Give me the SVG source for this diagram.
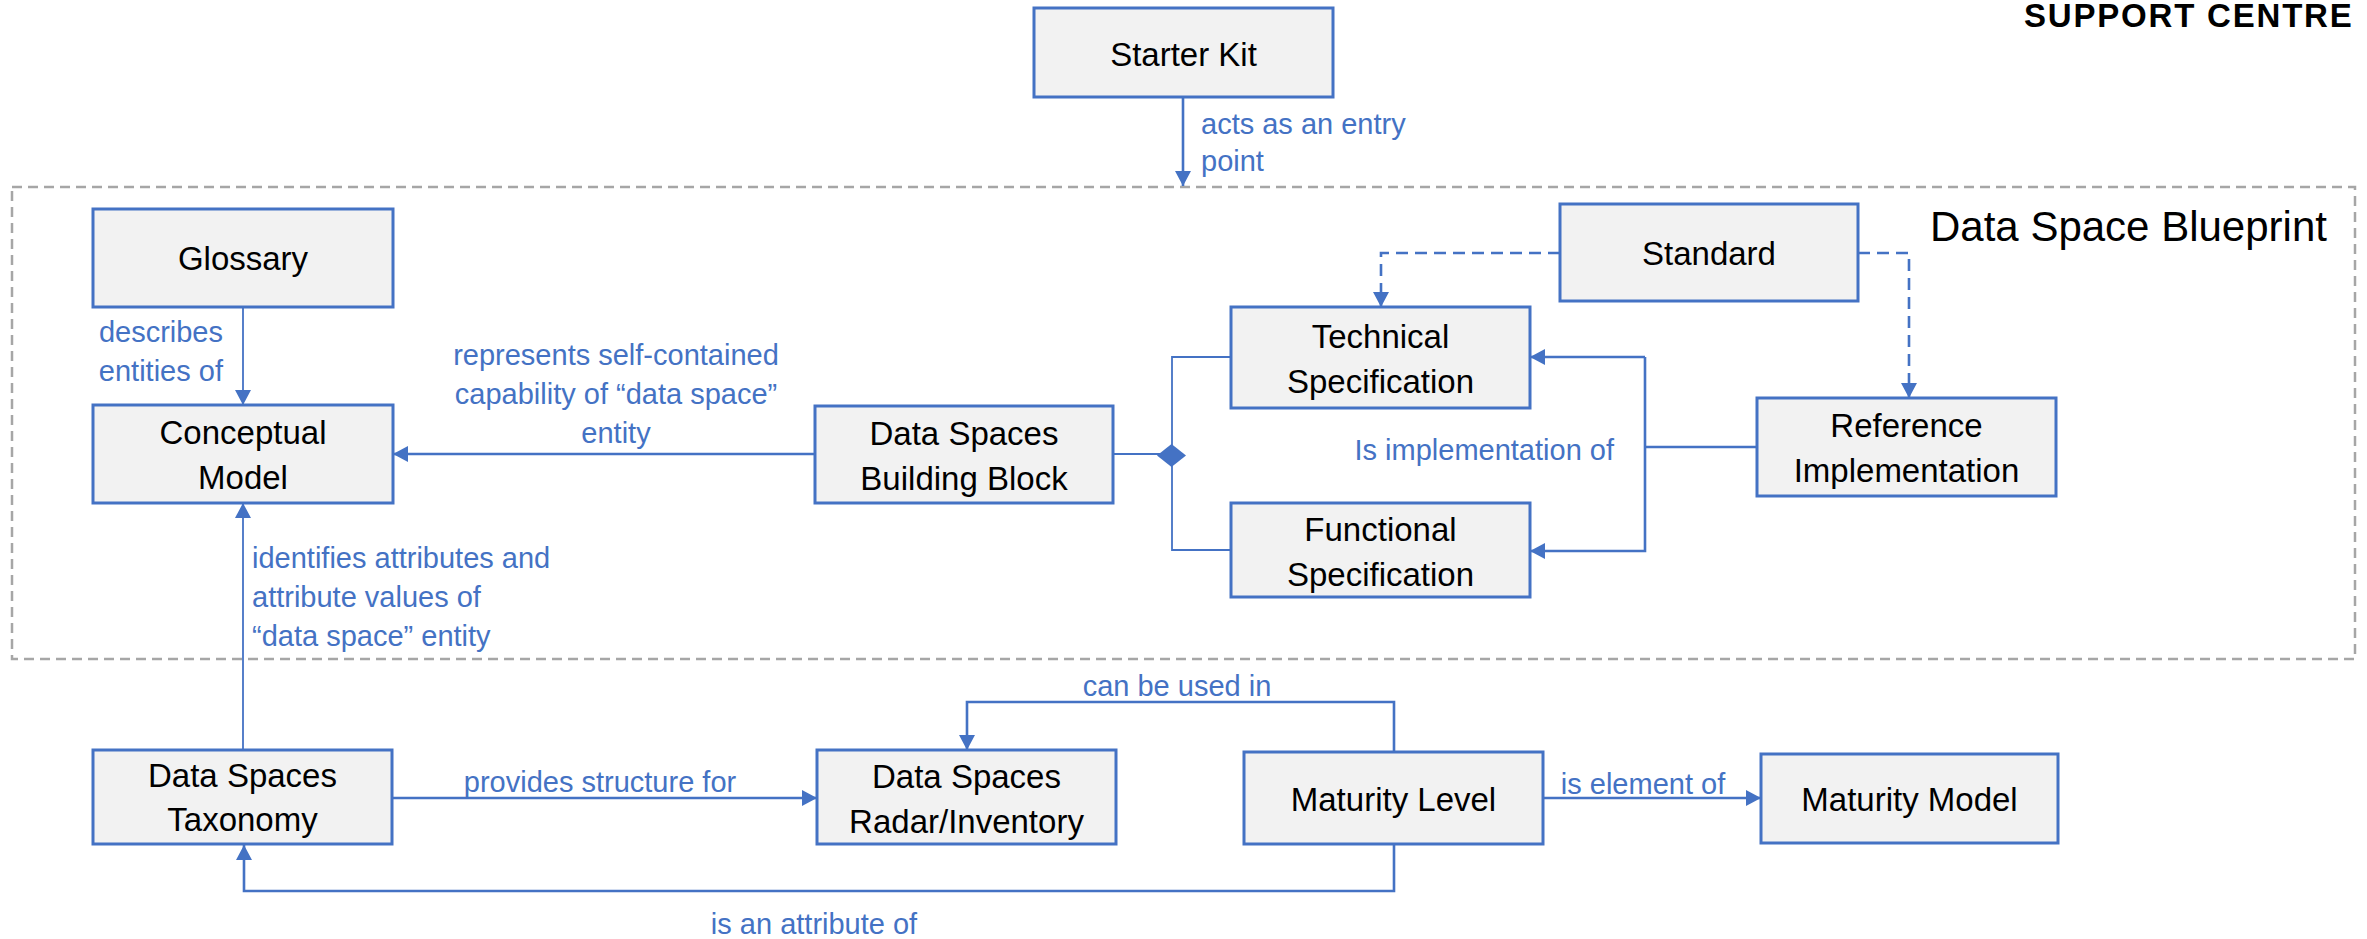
<svg xmlns="http://www.w3.org/2000/svg" width="2367" height="939" viewBox="0 0 2367 939">
<style>
.node rect{fill:#f2f2f2;stroke:#4472c4;stroke-width:3}
.node text{font-family:"Liberation Sans",Arial,sans-serif;font-size:33px;fill:#000;text-anchor:middle}
.lbl{font-family:"Liberation Sans",Arial,sans-serif;font-size:29px;fill:#4472c4}
.c{fill:none;stroke:#4472c4;stroke-width:2.6}
.thin{stroke-width:1.8}
.dash{stroke-dasharray:12 7}
</style>
<defs>
<marker id="arr" viewBox="0 0 15 16" refX="15" refY="8" markerWidth="15" markerHeight="16" markerUnits="userSpaceOnUse" orient="auto">
<path d="M0,0 L15,8 L0,16 z" fill="#4472c4"/>
</marker>
</defs>
<rect width="2367" height="939" fill="#ffffff"/>
<text x="2024" y="27" font-family="'Liberation Sans',Arial,sans-serif" font-size="33" font-weight="bold" letter-spacing="1.8" fill="#000">SUPPORT CENTRE</text>
<g id="blueprint">
<rect x="12" y="187" width="2343" height="472" fill="none" stroke="#a6a6a6" stroke-width="2.5" stroke-dasharray="10 6"/>
<text x="1930" y="241" font-family="'Liberation Sans',Arial,sans-serif" font-size="42" fill="#000">Data Space Blueprint</text>
</g>
<g id="connectors">
<path class="c" d="M1183,97 V186" marker-end="url(#arr)"/>
<path class="c thin" d="M243,307 V405" marker-end="url(#arr)"/>
<path class="c" d="M815,454 H393" marker-end="url(#arr)"/>
<path class="c thin" d="M1113,454 H1160"/>
<path class="c thin" d="M1231,357 H1172 V550 H1231"/>
<polygon points="1157,455.5 1171.5,444 1186,455.5 1171.5,467" fill="#4472c4"/>
<path class="c dash" d="M1560,253 H1381 V307" marker-end="url(#arr)"/>
<path class="c dash" d="M1858,253 H1909 V398" marker-end="url(#arr)"/>
<path class="c" d="M1757,447 H1645"/>
<path class="c" d="M1645,357 H1530" marker-end="url(#arr)"/>
<path class="c" d="M1645,357 V551 H1530" marker-end="url(#arr)"/>
<path class="c thin" d="M243,750 V503" marker-end="url(#arr)"/>
<path class="c" d="M392,798 H817" marker-end="url(#arr)"/>
<path class="c" d="M1394,752 V702 H967 V750" marker-end="url(#arr)"/>
<path class="c" d="M1543,798 H1761" marker-end="url(#arr)"/>
<path class="c" d="M1394,844 V891 H244 V845" marker-end="url(#arr)"/>
<text class="lbl" x="1201" y="134">acts as an entry</text>
<text class="lbl" x="1201" y="171">point</text>
<text class="lbl" x="223" y="342" text-anchor="end">describes</text>
<text class="lbl" x="223" y="381" text-anchor="end">entities of</text>
<text class="lbl" x="616" y="365" text-anchor="middle">represents self-contained</text>
<text class="lbl" x="616" y="404" text-anchor="middle">capability of “data space”</text>
<text class="lbl" x="616" y="443" text-anchor="middle">entity</text>
<text class="lbl" x="1614" y="460" text-anchor="end">Is implementation of</text>
<text class="lbl" x="252" y="568">identifies attributes and</text>
<text class="lbl" x="252" y="607">attribute values of</text>
<text class="lbl" x="252" y="646">“data space” entity</text>
<text class="lbl" x="600" y="792" text-anchor="middle">provides structure for</text>
<text class="lbl" x="1177" y="696" text-anchor="middle">can be used in</text>
<text class="lbl" x="1643" y="794" text-anchor="middle">is element of</text>
<text class="lbl" x="814" y="934" text-anchor="middle">is an attribute of</text>
</g>
<g id="starter-kit" class="node"><rect x="1034" y="8" width="299" height="89"/><text x="1183.5" y="66">Starter Kit</text></g>
<g id="glossary" class="node"><rect x="93" y="209" width="300" height="98"/><text x="243" y="270">Glossary</text></g>
<g id="conceptual-model" class="node"><rect x="93" y="405" width="300" height="98"/><text x="243" y="444">Conceptual</text><text x="243" y="489">Model</text></g>
<g id="building-block" class="node"><rect x="815" y="406" width="298" height="97"/><text x="964" y="445">Data Spaces</text><text x="964" y="490">Building Block</text></g>
<g id="standard" class="node"><rect x="1560" y="204" width="298" height="97"/><text x="1709" y="265">Standard</text></g>
<g id="technical-spec" class="node"><rect x="1231" y="307" width="299" height="101"/><text x="1380.5" y="348">Technical</text><text x="1380.5" y="393">Specification</text></g>
<g id="functional-spec" class="node"><rect x="1231" y="503" width="299" height="94"/><text x="1380.5" y="541">Functional</text><text x="1380.5" y="586">Specification</text></g>
<g id="reference-impl" class="node"><rect x="1757" y="398" width="299" height="98"/><text x="1906.5" y="437">Reference</text><text x="1906.5" y="482">Implementation</text></g>
<g id="taxonomy" class="node"><rect x="93" y="750" width="299" height="94"/><text x="242.5" y="787">Data Spaces</text><text x="242.5" y="831">Taxonomy</text></g>
<g id="radar" class="node"><rect x="817" y="750" width="299" height="94"/><text x="966.5" y="788">Data Spaces</text><text x="966.5" y="833">Radar/Inventory</text></g>
<g id="maturity-level" class="node"><rect x="1244" y="752" width="299" height="92"/><text x="1393.5" y="811">Maturity Level</text></g>
<g id="maturity-model" class="node"><rect x="1761" y="754" width="297" height="89"/><text x="1909.5" y="811">Maturity Model</text></g>
</svg>
